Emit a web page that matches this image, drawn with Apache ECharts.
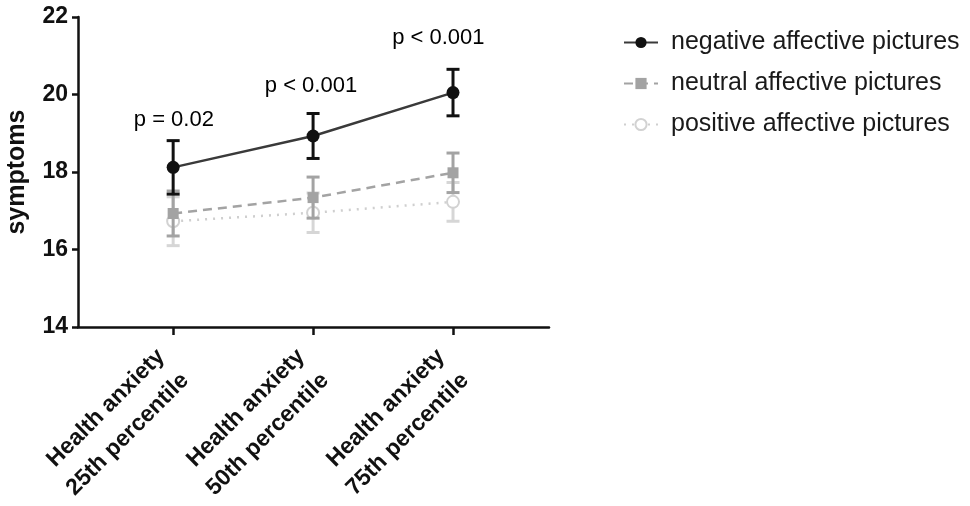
<!DOCTYPE html>
<html><head><meta charset="utf-8">
<script src="https://cdn.jsdelivr.net/npm/echarts@6/dist/echarts.min.js"></script>
<style>html,body{margin:0;padding:0;background:#fff}#c{width:970px;height:506px}</style>
</head><body><div id="c"></div>
<script>
const categories = ['Health anxiety\n25th percentile','Health anxiety\n50th percentile','Health anxiety\n75th percentile'];
const seriesNames = ['negative affective pictures','neutral affective pictures','positive affective pictures'];
const negMean = [18.12, 18.93, 20.05];
const negErr  = [0.69, 0.58, 0.60];
const neuMean = [16.93, 17.34, 17.98];
const neuErr  = [0.58, 0.53, 0.51];
const posMean = [16.73, 16.95, 17.23];
const posErr  = [0.63, 0.51, 0.50];
const yTicks = [14, 16, 18, 20, 22];
const pLabels = ['p = 0.02', 'p < 0.001', 'p < 0.001'];
const pLabelX = [0.005, 0.985, 1.895];
const pLabelY = [19.35, 20.21, 21.45];

const FONT = '"Liberation Sans", Arial, sans-serif';
const chart = echarts.init(document.getElementById('c'));

function errData(mean, err){ return mean.map((m,i)=>[i, m-err[i], m+err[i]]); }
function errSeries(mean, err, color, z){
  return {
    type:'custom', z:z, silent:true,
    data: errData(mean, err),
    renderItem: function(params, api){
      const x = api.value(0);
      const lo = api.coord([x, api.value(1)]);
      const hi = api.coord([x, api.value(2)]);
      const w = 6.5;
      const st = {stroke:color, lineWidth:3, fill:null};
      return {type:'group', children:[
        {type:'line', shape:{x1:hi[0], y1:hi[1], x2:lo[0], y2:lo[1]}, style:st},
        {type:'line', shape:{x1:hi[0]-w, y1:hi[1], x2:hi[0]+w, y2:hi[1]}, style:st},
        {type:'line', shape:{x1:lo[0]-w, y1:lo[1], x2:lo[0]+w, y2:lo[1]}, style:st}
      ]};
    }
  };
}
function pts(mean){ return mean.map((m,i)=>[i,m]); }

const option = {
  animation:false,
  textStyle:{fontFamily:FONT},
  grid:{left:78, right:421, top:17, bottom:178, containLabel:false},
  legend:{
    orient:'vertical', left:618, top:25, itemWidth:34, itemHeight:14, itemGap:16,
    textStyle:{fontFamily:FONT, fontSize:25, color:'#1a1a1a', padding:[0,0,0,8]},
    data: seriesNames
  },
  xAxis:{
    type:'value', min:-0.68, max:2.686,
    splitLine:{show:false},
    axisLine:{show:true, onZero:false, lineStyle:{color:'#111', width:2.5}},
    axisTick:{show:true, customValues:[0,1,2], length:8, lineStyle:{color:'#111', width:2.5}},
    axisLabel:{customValues:[0,1,2], formatter:v=>categories[Math.round(v)], rotate:45,
      fontFamily:FONT, fontSize:23, fontWeight:'bold', color:'#111', margin:38, lineHeight:34}
  },
  yAxis:{
    type:'value', min:14, max:22, interval:2,
    name:'symptoms', nameLocation:'middle', nameGap:48,
    nameTextStyle:{fontFamily:FONT, fontSize:25, fontWeight:'bold', color:'#111'},
    splitLine:{show:false},
    axisLine:{show:true, onZero:false, lineStyle:{color:'#111', width:2.5}},
    axisTick:{show:true, length:6, lineStyle:{color:'#111', width:2.5}},
    axisLabel:{fontFamily:FONT, fontSize:23, fontWeight:'bold', color:'#111', margin:10,
      formatter:v=>yTicks.includes(v)? String(v):''}
  },
  series:[
    errSeries(posMean, posErr, '#d6d6d6', 1),
    errSeries(neuMean, neuErr, '#a3a3a3', 3),
    errSeries(negMean, negErr, '#111111', 5),
    {name:seriesNames[2], type:'line', z:2, data:pts(posMean), symbol:'emptyCircle', symbolSize:12,
      lineStyle:{color:'#cfcfcf', width:2.5, type:[2,6]},
      itemStyle:{color:'#d2d2d2', borderColor:'#d2d2d2', borderWidth:2.5}},
    {name:seriesNames[1], type:'line', z:4, data:pts(neuMean), symbol:'rect', symbolSize:11,
      lineStyle:{color:'#a3a3a3', width:2.5, type:[9,6]},
      itemStyle:{color:'#a3a3a3'}},
    {name:seriesNames[0], type:'line', z:6, data:pts(negMean), symbol:'circle', symbolSize:13,
      lineStyle:{color:'#3a3a3a', width:2.5},
      itemStyle:{color:'#111111'}},
    {type:'scatter', z:7, silent:true, symbolSize:0, itemStyle:{opacity:1},
      data: pLabels.map((t,i)=>({value:[pLabelX[i], pLabelY[i]], name:t})),
      label:{show:true, position:'inside', formatter:p=>p.name, fontFamily:FONT, fontSize:22,
        color:'#000', opacity:1, textBorderWidth:0}}
  ]
};
chart.setOption(option);
</script></body></html>
